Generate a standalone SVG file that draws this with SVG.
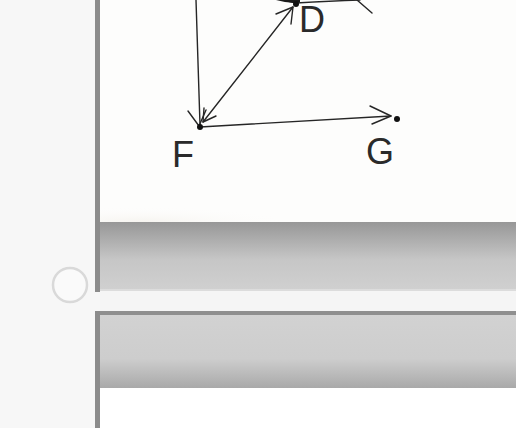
<svg xmlns="http://www.w3.org/2000/svg" width="516" height="428" viewBox="0 0 516 428">
<defs>
<style>
.ink{fill:none;stroke:#262626;stroke-width:1.4;stroke-linecap:round;stroke-linejoin:round}
.dot{fill:#111}
.lbl{font-family:"Liberation Sans",Arial,sans-serif;fill:#2a2a2a;font-size:36px}
</style>
<linearGradient id="band1" x1="0" y1="0" x2="0" y2="1">
<stop offset="0" stop-color="#979797"/>
<stop offset="0.55" stop-color="#c6c6c6"/>
<stop offset="1" stop-color="#d0d0d0"/>
</linearGradient>
<linearGradient id="band2" x1="0" y1="0" x2="0" y2="1">
<stop offset="0" stop-color="#d2d2d2"/>
<stop offset="0.6" stop-color="#cdcdcd"/>
<stop offset="1" stop-color="#a9a9a9"/>
</linearGradient>
<radialGradient id="stain" cx="0.1" cy="1" r="0.4">
<stop offset="0" stop-color="#f3f0ea"/>
<stop offset="1" stop-color="#ffffff" stop-opacity="0"/>
</radialGradient>
</defs>
<rect width="516" height="428" fill="#f7f7f7"/>
<rect x="100" y="0" width="416" height="222" fill="#fdfdfc"/>
<rect x="100" y="180" width="416" height="42" fill="url(#stain)" opacity="0.7"/>
<rect x="100" y="222" width="416" height="68" fill="url(#band1)"/>
<rect x="100" y="289" width="416" height="2" fill="#dcdcdc"/>
<rect x="100" y="291" width="416" height="20" fill="#f5f5f5"/>
<rect x="95" y="311" width="421" height="4" fill="#8f8f8f"/>
<rect x="100" y="315" width="416" height="73" fill="url(#band2)"/>
<rect x="100" y="388" width="416" height="40" fill="#ffffff"/>
<rect x="95" y="0" width="5" height="292" fill="#8c8c8c"/>
<rect x="95" y="311" width="5" height="117" fill="#8c8c8c"/>
<circle cx="70" cy="285" r="17" fill="#fafafa" stroke="#d9d9d9" stroke-width="2.5"/>
<g id="connectors">
<path class="ink" d="M196 0 L200 125"/>
<path class="ink" d="M188 111 L199 126 L206 110"/>
<path class="ink" d="M203 122 L293 7"/>
<path class="ink" d="M204 108 L203 122 L216 116"/>
<path class="ink" d="M276 14 L293 7 L291 24"/>
<path class="ink" d="M200 127 L391 116"/>
<path class="ink" d="M370 106 L391 116 L372 124"/>
<path class="ink" d="M280 -2 Q288 2 296 3 Q330 1 360 0"/>
<path class="ink" d="M357 0 L372 13"/>
<path d="M276 0 Q290 4 300 2 L300 -2 Z" fill="#1a1a1a"/>
</g>
<g id="node-D">
<circle class="dot" cx="296" cy="4" r="3"/>
<text class="lbl" x="299" y="32" font-size="26">D</text>
</g>
<g id="node-F">
<circle class="dot" cx="200" cy="127" r="3"/>
<text class="lbl" x="172" y="167">F</text>
</g>
<g id="node-G">
<circle class="dot" cx="397" cy="119" r="3"/>
<text class="lbl" x="366" y="164">G</text>
</g>
</svg>
